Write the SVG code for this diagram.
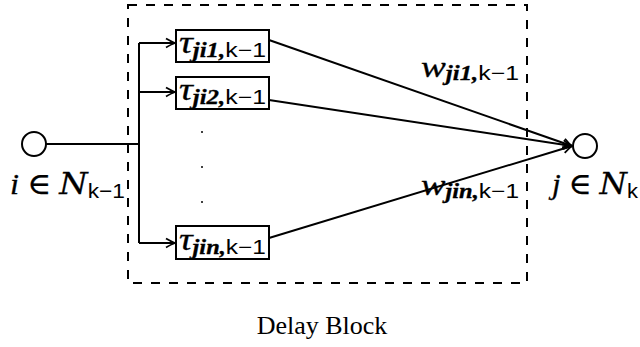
<svg xmlns="http://www.w3.org/2000/svg" width="640" height="347" viewBox="0 0 640 347">
  <style>
    .ln { stroke:#000; stroke-width:2; fill:none; }
    .box { stroke:#000; stroke-width:2; fill:#fff; }
    .node { stroke:#000; stroke-width:2; fill:#fff; }
    .dash { stroke:#000; stroke-width:2; fill:none; stroke-dasharray:9 9; }
    .math { font-family:"Liberation Serif","DejaVu Serif",serif; font-style:italic; fill:#000; stroke:#000; stroke-width:0.3; }
    .sub { font-family:"Liberation Serif","DejaVu Serif",serif; font-style:italic; font-weight:bold; }
    .sf { font-family:"Liberation Sans","DejaVu Sans",sans-serif; font-style:normal; font-weight:normal; stroke:none; }
    .rm { font-family:"Liberation Serif","DejaVu Serif",serif; font-style:normal; }
    .cal { font-family:"DejaVu Serif","Liberation Serif",serif; font-style:italic; }
  </style>
  <defs>
    <marker id="arr" viewBox="-10 -6 12 12" refX="0" refY="0" markerWidth="12" markerHeight="12" markerUnits="userSpaceOnUse" orient="auto">
      <path d="M -9 -4.5 Q -3 -1 0 0 Q -3 1 -9 4.5" stroke="#000" stroke-width="1.8" fill="none"/>
    </marker>
  </defs>

  <!-- delay block outline -->
  <rect id="delay-block" class="dash" x="128" y="5" width="399" height="278"/>

  <g id="connectors">
    <path class="ln" d="M 46 144 H 139"/>
    <path class="ln" d="M 139 43 V 243"/>
    <path class="ln" d="M 139 43 H 175" marker-end="url(#arr)"/>
    <path class="ln" d="M 139 92 H 175" marker-end="url(#arr)"/>
    <path class="ln" d="M 139 243 H 175" marker-end="url(#arr)"/>
    <path class="ln" d="M 269 40 L 572 146" marker-end="url(#arr)"/>
    <path class="ln" d="M 269 100 L 572 146" marker-end="url(#arr)"/>
    <path class="ln" d="M 269 238 L 572 146" marker-end="url(#arr)"/>
  </g>

  <g id="node-i">
    <circle class="node" cx="34" cy="144" r="12"/>
    <text class="math" x="10" y="194" font-size="30" textLength="115" lengthAdjust="spacingAndGlyphs">i <tspan class="rm">∈</tspan> <tspan class="cal">N</tspan><tspan class="sf" font-size="21" dy="4">k−1</tspan></text>
  </g>

  <g id="node-j">
    <circle class="node" cx="585" cy="146" r="12"/>
    <text class="math" x="552" y="194" font-size="30" textLength="86" lengthAdjust="spacingAndGlyphs">j <tspan class="rm">∈</tspan> <tspan class="cal">N</tspan><tspan class="sf" font-size="21" dy="4">k</tspan></text>
  </g>

  <g id="tau-1">
    <rect class="box" x="176" y="30" width="93" height="32"/>
    <text class="math" x="179" y="53" font-size="31" textLength="87" lengthAdjust="spacingAndGlyphs">τ<tspan class="sub" font-size="20" dy="4">ji1,</tspan><tspan class="sf" font-size="20">k−1</tspan></text>
  </g>

  <g id="tau-2">
    <rect class="box" x="176" y="77" width="93" height="32"/>
    <text class="math" x="179" y="100" font-size="31" textLength="87" lengthAdjust="spacingAndGlyphs">τ<tspan class="sub" font-size="20" dy="4">ji2,</tspan><tspan class="sf" font-size="20">k−1</tspan></text>
  </g>

  <g id="tau-n">
    <rect class="box" x="176" y="226" width="93" height="33"/>
    <text class="math" x="179" y="250" font-size="31" textLength="87" lengthAdjust="spacingAndGlyphs">τ<tspan class="sub" font-size="20" dy="4">jin,</tspan><tspan class="sf" font-size="20">k−1</tspan></text>
  </g>

  <!-- vertical ellipsis between branches -->
  <g id="ellipsis" fill="#000">
    <circle cx="202" cy="132" r="1"/>
    <circle cx="202" cy="167" r="1"/>
    <circle cx="202" cy="202" r="1"/>
  </g>

  <g id="weight-labels">
    <text class="math" x="421" y="77" font-size="30" textLength="98" lengthAdjust="spacingAndGlyphs">w<tspan class="sub" font-size="20" dy="3">ji1,</tspan><tspan class="sf" font-size="20">k−1</tspan></text>
    <text class="math" x="421" y="195" font-size="30" textLength="98" lengthAdjust="spacingAndGlyphs">w<tspan class="sub" font-size="20" dy="3">jin,</tspan><tspan class="sf" font-size="20">k−1</tspan></text>
  </g>

  <text id="caption" x="322" y="334" font-family="Liberation Serif, DejaVu Serif, serif" font-size="26" text-anchor="middle" fill="#000">Delay Block</text>
</svg>
